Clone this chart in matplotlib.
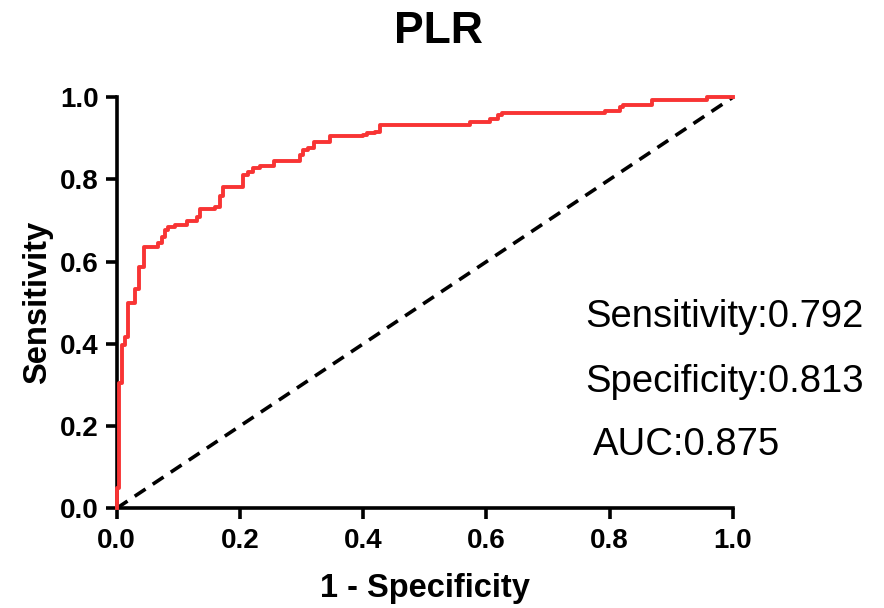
import matplotlib
matplotlib.use('Agg')
import matplotlib.pyplot as plt

plt.rcParams['font.family'] = ['Liberation Sans', 'DejaVu Sans']

# ROC curve corners (1 - specificity, sensitivity)
fpr = [0.0, 0.0, 0.003, 0.003, 0.008, 0.008, 0.013, 0.013, 0.019, 0.019,
       0.029, 0.029, 0.036, 0.036, 0.045, 0.045, 0.062, 0.067, 0.073, 0.078,
       0.083, 0.094, 0.114, 0.130, 0.131, 0.135, 0.159, 0.159, 0.167, 0.172,
       0.203, 0.205, 0.213, 0.221, 0.232, 0.256, 0.256, 0.297, 0.297, 0.302,
       0.310, 0.321, 0.346, 0.346, 0.394, 0.399, 0.407, 0.419, 0.427, 0.573,
       0.573, 0.606, 0.606, 0.619, 0.625, 0.792, 0.792, 0.812, 0.817, 0.821,
       0.869, 0.869, 0.958, 0.958, 1.0]
tpr = [0.0, 0.049, 0.049, 0.304, 0.304, 0.397, 0.397, 0.416, 0.416, 0.499,
       0.499, 0.533, 0.533, 0.586, 0.586, 0.635, 0.635, 0.645, 0.659, 0.676,
       0.684, 0.689, 0.698, 0.698, 0.708, 0.727, 0.727, 0.732, 0.759, 0.781,
       0.781, 0.810, 0.818, 0.827, 0.832, 0.832, 0.844, 0.844, 0.859, 0.871,
       0.876, 0.891, 0.891, 0.905, 0.905, 0.908, 0.912, 0.915, 0.932, 0.932,
       0.939, 0.939, 0.946, 0.956, 0.961, 0.961, 0.966, 0.966, 0.976, 0.981,
       0.981, 0.993, 0.993, 1.0, 1.0]

ticks = [0.0, 0.2, 0.4, 0.6, 0.8, 1.0]
tick_labels = ['0.0', '0.2', '0.4', '0.6', '0.8', '1.0']
stats = ['Sensitivity:0.792', 'Specificity:0.813', 'AUC:0.875']

fig = plt.figure(figsize=(8.84, 6.08), dpi=100)
ax = fig.add_axes([0.132, 0.164, 0.697, 0.676])

ax.plot([0, 1], [0, 1], color='black', lw=2.6, ls=(0, (3.6, 2.4)), clip_on=False)
ax.plot(fpr, tpr, color='#F83434', lw=2.8, drawstyle='steps-post', clip_on=False, zorder=3)

ax.set_xlim(0, 1)
ax.set_ylim(0, 1)
ax.spines['top'].set_visible(False)
ax.spines['right'].set_visible(False)
for s in ['left', 'bottom']:
    ax.spines[s].set_linewidth(2.6)
ax.tick_params(width=2.6, length=8, direction='out', labelsize=20)
ax.tick_params(axis='x', pad=6)
ax.tick_params(axis='y', pad=5)
ax.set_xticks(ticks)
ax.set_xticklabels(tick_labels, fontweight='bold')
ax.set_yticks(ticks)
ax.set_yticklabels(tick_labels, fontweight='bold')

ax.set_xlabel('1 - Specificity', fontsize=23.5, fontweight='bold', labelpad=14)
ax.set_ylabel('Sensitivity', fontsize=23.5, fontweight='bold', labelpad=5)
fig.text(0.496, 0.929, 'PLR', fontsize=32, fontweight='bold', ha='center', va='baseline')

ax.text(0.760, 0.440, stats[0], fontsize=27.5, va='baseline', ha='left')
ax.text(0.760, 0.282, stats[1], fontsize=27.5, va='baseline', ha='left')
ax.text(0.773, 0.129, stats[2], fontsize=27.5, va='baseline', ha='left')

fig.savefig('out.png', dpi=100)
